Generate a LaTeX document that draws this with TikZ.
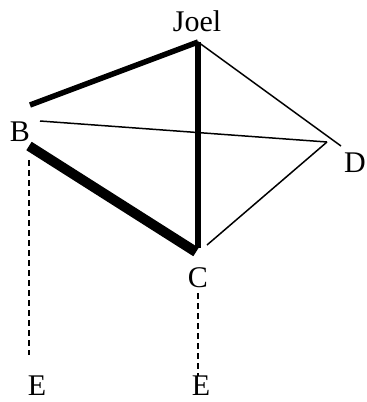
\documentclass[tikz,border=0pt]{standalone}
\usepackage{fontspec}
\setmainfont{Liberation Serif}
\usepackage{tikz}

\begin{document}
\begin{tikzpicture}[x=1pt, y=-1pt]

		% Styles
		\tikzset{
			lbl/.style={font=\fontsize{30}{34}\selectfont, inner sep=0pt},
			thinline/.style={line width=1.5pt},
			boldline/.style={line width=5.5pt},
			heavyline/.style={line width=10pt},
			dashline/.style={line width=1.4pt, dash pattern=on 6pt off 4pt}
		}

		\useasboundingbox (0,0) rectangle (367,402);

		% --- Labels ---
		\node[lbl] (joel) at (197,21) {Joel};
		\node[lbl] (b) at (20,132) {B};
		\node[lbl] (d) at (355,163) {D};
		\node[lbl] (c) at (198,278) {C};
		\node[lbl] (eleft) at (37,386) {E};
		\node[lbl] (eright) at (201,386) {E};

		% --- Line ends ---
		\coordinate (jtop) at (198,42);
		\coordinate (bup) at (30,105);
		\coordinate (bmid) at (40,121);
		\coordinate (blow) at (29,146);
		\coordinate (dleft) at (327,142);
		\coordinate (dtip) at (341,146);
		\coordinate (cbot) at (196,252);
		\coordinate (cright) at (207,245);
		\coordinate (bdash) at (29,160);
		\coordinate (ebdash) at (29,355);
		\coordinate (cdash) at (198,293);
		\coordinate (ecdash) at (198,376);

		% --- Edges ---
		\draw[boldline] (jtop) -- (bup);
		\draw[boldline] (jtop) -- (198,248);
		\draw[heavyline] (blow) -- (cbot);
		\draw[thinline] (bmid) -- (dleft);
		\draw[thinline] (jtop) -- (dtip);
		\draw[thinline] (cright) -- (dleft);

		% Dashed drops
		\draw[dashline] (bdash) -- (ebdash);
		\draw[dashline] (cdash) -- (ecdash);

	\end{tikzpicture}
\end{document}
